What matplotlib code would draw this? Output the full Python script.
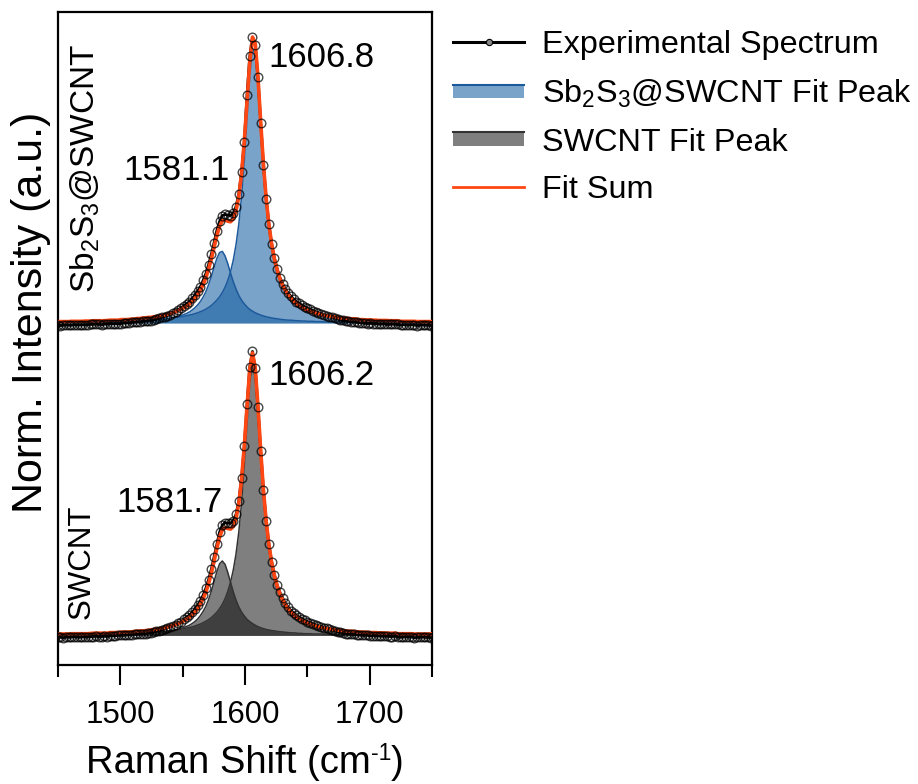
import numpy as np
import matplotlib
matplotlib.use('Agg')
import matplotlib.pyplot as plt
from matplotlib.lines import Line2D
from matplotlib.patches import Patch, Rectangle
from matplotlib.legend_handler import HandlerBase

plt.rcParams['font.family'] = ['Liberation Sans', 'DejaVu Sans']
plt.rcParams['mathtext.fontset'] = 'custom'
plt.rcParams['mathtext.rm'] = 'Liberation Sans'
plt.rcParams['mathtext.it'] = 'Liberation Sans:italic'

# ---------------- data ----------------
raman_shift = np.array([
    1447.6, 1449.8, 1452.0, 1454.2, 1456.4, 1458.6, 1460.8, 1463.0, 1465.2, 1467.4,
    1469.6, 1471.8, 1474.0, 1476.2, 1478.4, 1480.6, 1482.8, 1485.0, 1487.2, 1489.4,
    1491.6, 1493.8, 1496.0, 1498.2, 1500.4, 1502.6, 1504.8, 1507.0, 1509.2, 1511.4,
    1513.6, 1515.8, 1518.0, 1520.2, 1522.4, 1524.6, 1526.8, 1529.0, 1531.2, 1533.4,
    1535.6, 1537.8, 1540.0, 1542.2, 1544.4, 1546.6, 1548.8, 1551.0, 1553.2, 1555.4,
    1557.6, 1559.8, 1562.0, 1564.2, 1566.4, 1568.6, 1570.8, 1573.0, 1575.2, 1577.4,
    1579.6, 1581.8, 1584.0, 1586.2, 1588.4, 1590.6, 1592.8, 1595.0, 1597.2, 1599.4,
    1601.6, 1603.8, 1606.0, 1608.2, 1610.4, 1612.6, 1614.8, 1617.0, 1619.2, 1621.4,
    1623.6, 1625.8, 1628.0, 1630.2, 1632.4, 1634.6, 1636.8, 1639.0, 1641.2, 1643.4,
    1645.6, 1647.8, 1650.0, 1652.2, 1654.4, 1656.6, 1658.8, 1661.0, 1663.2, 1665.4,
    1667.6, 1669.8, 1672.0, 1674.2, 1676.4, 1678.6, 1680.8, 1683.0, 1685.2, 1687.4,
    1689.6, 1691.8, 1694.0, 1696.2, 1698.4, 1700.6, 1702.8, 1705.0, 1707.2, 1709.4,
    1711.6, 1713.8, 1716.0, 1718.2, 1720.4, 1722.6, 1724.8, 1727.0, 1729.2, 1731.4,
    1733.6, 1735.8, 1738.0, 1740.2, 1742.4, 1744.6, 1746.8, 1749.0, 1751.2])

# Sb2S3@SWCNT fit peak at 1581.1 (intensity x 1000)
sb_peak_1581 = np.array([
    2, 2, 2, 2, 2, 2, 2, 2, 2, 2,
    2, 3, 3, 3, 3, 3, 3, 3, 3, 4,
    4, 4, 4, 4, 5, 5, 5, 5, 6, 6,
    7, 7, 8, 8, 9, 9, 10, 11, 12, 13,
    14, 15, 17, 19, 21, 24, 27, 30, 34, 39,
    46, 54, 64, 76, 92, 111, 136, 165, 198, 229,
    250, 254, 238, 210, 177, 146, 120, 98, 81, 68,
    57, 48, 42, 36, 32, 28, 25, 22, 20, 18,
    16, 15, 13, 12, 11, 10, 10, 9, 8, 8,
    7, 7, 6, 6, 6, 5, 5, 5, 4, 4,
    4, 4, 4, 4, 3, 3, 3, 3, 3, 3,
    3, 2, 2, 2, 2, 2, 2, 2, 2, 2,
    2, 2, 2, 2, 2, 2, 1, 1, 1, 1,
    1, 1, 1, 1, 1, 1, 1, 1, 1]) / 1000

# Sb2S3@SWCNT fit peak at 1606.8
sb_peak_1606 = np.array([
    3, 3, 3, 3, 3, 3, 4, 4, 4, 4,
    4, 4, 4, 4, 5, 5, 5, 5, 5, 5,
    6, 6, 6, 6, 7, 7, 7, 8, 8, 8,
    9, 9, 10, 10, 11, 11, 12, 12, 13, 14,
    15, 16, 17, 18, 19, 21, 22, 24, 26, 28,
    30, 33, 36, 40, 44, 49, 55, 62, 71, 81,
    93, 108, 127, 151, 182, 223, 278, 350, 447, 574,
    726, 878, 972, 956, 840, 683, 537, 418, 328, 261,
    211, 173, 144, 121, 104, 89, 78, 68, 60, 54,
    48, 43, 39, 35, 32, 30, 27, 25, 23, 22,
    20, 19, 18, 16, 15, 15, 14, 13, 12, 12,
    11, 10, 10, 9, 9, 9, 8, 8, 7, 7,
    7, 7, 6, 6, 6, 6, 5, 5, 5, 5,
    5, 5, 4, 4, 4, 4, 4, 4, 4]) / 1000

# Sb2S3@SWCNT experimental minus fit sum
sb_residual = np.array([
    -13, -12, -14, -13, -12, -13, -14, -12, -13, -13,
    -12, -14, -13, -12, -13, -12, -13, -14, -12, -13,
    -12, -13, -12, -13, -14, -12, -12, -13, -12, -11,
    -12, -13, -12, -11, -12, -12, -11, -10, -9, -7,
    -6, -5, -4, -2, 0, 2, 5, 7, 8, 9,
    11, 12, 13, 13, 15, 15, 16, 17, 16, 18,
    17, 19, 20, 21, 22, 20, 15, 10, 6, 1,
    25, 20, 0, -5, 0, 0, 0, 1, 2, 2,
    3, 4, 4, 6, 6, 7, 7, 8, 8, 8,
    8, 8, 8, 7, 6, 5, 4, 3, 1, 0,
    -1, -3, -4, -6, -8, -9, -10, -10, -11, -11,
    -12, -11, -12, -12, -13, -12, -13, -12, -13, -13,
    -12, -14, -13, -12, -13, -13, -14, -12, -13, -13,
    -12, -13, -14, -13, -12, -13, -13, -14, -13]) / 1000

# SWCNT fit peak at 1581.7
sw_peak_1581 = np.array([
    2, 2, 2, 2, 2, 2, 2, 2, 2, 2,
    2, 2, 2, 3, 3, 3, 3, 3, 3, 3,
    4, 4, 4, 4, 4, 5, 5, 5, 5, 6,
    6, 7, 7, 7, 8, 9, 9, 10, 11, 12,
    13, 14, 16, 17, 19, 22, 24, 28, 32, 36,
    42, 49, 58, 70, 85, 103, 127, 157, 191, 226,
    254, 264, 252, 223, 188, 154, 125, 101, 83, 69,
    57, 49, 42, 36, 31, 27, 24, 21, 19, 17,
    16, 14, 13, 12, 11, 10, 9, 9, 8, 7,
    7, 6, 6, 6, 5, 5, 5, 5, 4, 4,
    4, 4, 4, 3, 3, 3, 3, 3, 3, 3,
    2, 2, 2, 2, 2, 2, 2, 2, 2, 2,
    2, 2, 2, 2, 2, 1, 1, 1, 1, 1,
    1, 1, 1, 1, 1, 1, 1, 1, 1]) / 1000

# SWCNT fit peak at 1606.2
sw_peak_1606 = np.array([
    3, 3, 3, 3, 3, 3, 4, 4, 4, 4,
    4, 4, 4, 4, 5, 5, 5, 5, 5, 5,
    6, 6, 6, 6, 7, 7, 7, 7, 8, 8,
    9, 9, 9, 10, 10, 11, 12, 12, 13, 14,
    15, 16, 17, 18, 19, 20, 22, 24, 26, 28,
    30, 33, 37, 40, 45, 50, 56, 63, 72, 82,
    95, 110, 130, 156, 189, 232, 289, 366, 469, 601,
    754, 894, 960, 913, 782, 628, 491, 383, 302, 241,
    196, 161, 135, 114, 97, 84, 73, 64, 57, 51,
    46, 41, 37, 34, 31, 28, 26, 24, 22, 21,
    19, 18, 17, 16, 15, 14, 13, 12, 12, 11,
    11, 10, 10, 9, 9, 8, 8, 8, 7, 7,
    7, 6, 6, 6, 6, 5, 5, 5, 5, 5,
    5, 4, 4, 4, 4, 4, 4, 4, 4]) / 1000

# SWCNT experimental minus fit sum
sw_residual = np.array([
    -12, -11, -12, -13, -11, -12, -12, -11, -12, -13,
    -11, -12, -11, -12, -12, -11, -13, -12, -11, -12,
    -11, -12, -11, -10, -11, -12, -11, -10, -11, -10,
    -11, -10, -10, -11, -10, -10, -9, -8, -7, -6,
    -4, -3, -2, -1, 0, 2, 3, 5, 7, 8,
    10, 12, 12, 13, 13, 14, 15, 15, 16, 16,
    17, 17, 18, 19, 21, 21, 15, 10, 5, 1,
    8, 10, 5, 0, -3, 0, 1, 2, 2, 3,
    3, 4, 5, 6, 6, 6, 6, 7, 6, 6,
    6, 6, 6, 5, 5, 4, 3, 2, 1, 0,
    -1, -3, -4, -6, -7, -9, -10, -10, -11, -10,
    -11, -11, -12, -11, -11, -12, -11, -12, -11, -12,
    -12, -11, -12, -12, -11, -12, -13, -12, -11, -12,
    -12, -13, -12, -12, -11, -12, -12, -13, -12]) / 1000

sb_offset = 1.108
peak_labels_sb = ['1581.1', '1606.8']
peak_labels_sw = ['1581.7', '1606.2']
sample_names = ['Sb$_\\mathregular{2}$S$_\\mathregular{3}$@SWCNT', 'SWCNT']
legend_labels = ['Experimental Spectrum', 'Sb$_\\mathregular{2}$S$_\\mathregular{3}$@SWCNT Fit Peak',
                 'SWCNT Fit Peak', 'Fit Sum']
x_major = [1500, 1600, 1700]
x_minor = [1450, 1550, 1650, 1750]

# ---------------- figure ----------------
fig = plt.figure(figsize=(9.18, 7.84), dpi=100)
ax = fig.add_axes([58 / 918, 1 - 665 / 784, (432 - 58) / 918, (665 - 12) / 784])

blue_c, blue_e, blue_a = '#135c9f', '#1d5a9c', 0.56
gray_c, gray_e, gray_a = '#000000', '#333333', 0.5
red = '#ff4713'

x = raman_shift
sets = [(sb_offset, sb_peak_1581, sb_peak_1606, sb_residual, blue_c, blue_e, blue_a),
        (0.0, sw_peak_1581, sw_peak_1606, sw_residual, gray_c, gray_e, gray_a)]
for off, p1, p2, res, c, e, a in sets:
    fit_sum = p1 + p2
    exp = fit_sum + res
    for p in (p1, p2):
        ax.fill_between(x, off, off + p, color=c, alpha=a, lw=0, zorder=1)
        ax.plot(x, off + p, color=e, lw=1.1, zorder=2)
    ax.plot(x, off + exp, color='black', lw=2.0, zorder=3)
    ax.plot(x, off + fit_sum, color=red, lw=2.6, zorder=4)
    ax.plot(x, off + exp, ls='none', marker='o', ms=6.2, mfc='none', mec=(0, 0, 0, 0.72), mew=1.0, zorder=5)

ax.set_xlim(1450, 1750)
ax.set_ylim(-0.105, 2.211)
ax.set_yticks([])
ax.set_xticks(x_major)
ax.set_xticks(x_minor, minor=True)
ax.tick_params(axis='x', which='major', direction='out', length=14.5, width=1.5, labelsize=22.5, pad=11)
ax.tick_params(axis='x', which='minor', direction='out', length=8.5, width=1.5)
for s in ax.spines.values():
    s.set_linewidth(1.6)

# x label with a hyphen superscript
fig.canvas.draw()
rend = fig.canvas.get_renderer()
parts = [('Raman Shift (cm', 27.5, 0), ('-1', 16.5, 13.5), (')', 27.5, 0)]
arts = [fig.text(0, 0, t, fontsize=fs, va='baseline', ha='left') for t, fs, dy in parts]
widths = [a_.get_window_extent(rend).width for a_ in arts]
x0 = 245 - sum(widths) / 2
for a_, w_, (t, fs, dy) in zip(arts, widths, parts):
    a_.set_position((x0 / 918, 1 - (773 - dy) / 784))
    x0 += w_

fig.text(31.5 / 918, 1 - 312 / 784, 'Norm. Intensity (a.u.)', ha='center', va='center', rotation=90, fontsize=31)
fig.text(85.5 / 918, 1 - 169 / 784, sample_names[0], ha='center', va='center', rotation=90, fontsize=24)
fig.text(82 / 918, 1 - 561.7 / 784, sample_names[1], ha='center', va='center', rotation=90, fontsize=22.5)

for txt, xx, yy in [(peak_labels_sb[1], 1618.4, 2.017), (peak_labels_sb[0], 1502.1, 1.615),
                    (peak_labels_sw[1], 1618.4, 0.888), (peak_labels_sw[0], 1497.1, 0.439)]:
    ax.text(xx, yy, txt, ha='left', va='baseline', fontsize=25)


class PeakHandler(HandlerBase):
    def __init__(self, face, edge, alpha):
        super().__init__()
        self.face, self.edge, self.alpha = face, edge, alpha

    def create_artists(self, legend, orig_handle, xdescent, ydescent, width, height, fontsize, trans):
        h = 10.0
        y0 = -ydescent + (height - h) / 2
        rect = Rectangle((-xdescent, y0), width, h, facecolor=self.face, alpha=self.alpha, lw=0, transform=trans)
        line = Line2D([-xdescent, -xdescent + width], [y0 + h, y0 + h], color=self.edge, lw=1.5, transform=trans)
        return [rect, line]


h_exp = Line2D([], [], color='black', lw=2.2, marker='o', ms=4.5, mfc='#888888', mec='black', mew=0.8)
h_blue = Patch(label='b')
h_gray = Patch(label='g')
h_red = Line2D([], [], color=red, lw=2.0)
fig.legend([h_exp, h_blue, h_gray, h_red], legend_labels,
           handler_map={h_blue: PeakHandler(blue_c, blue_e, blue_a), h_gray: PeakHandler(gray_c, gray_e, gray_a)},
           loc='upper left', bbox_to_anchor=(453 / 918, 1 - 30 / 784), frameon=False, borderpad=0, borderaxespad=0,
           fontsize=23.3, handlelength=2.2, handletextpad=0.55, labelspacing=0.55, numpoints=1)

fig.savefig('out.png', dpi=100)
